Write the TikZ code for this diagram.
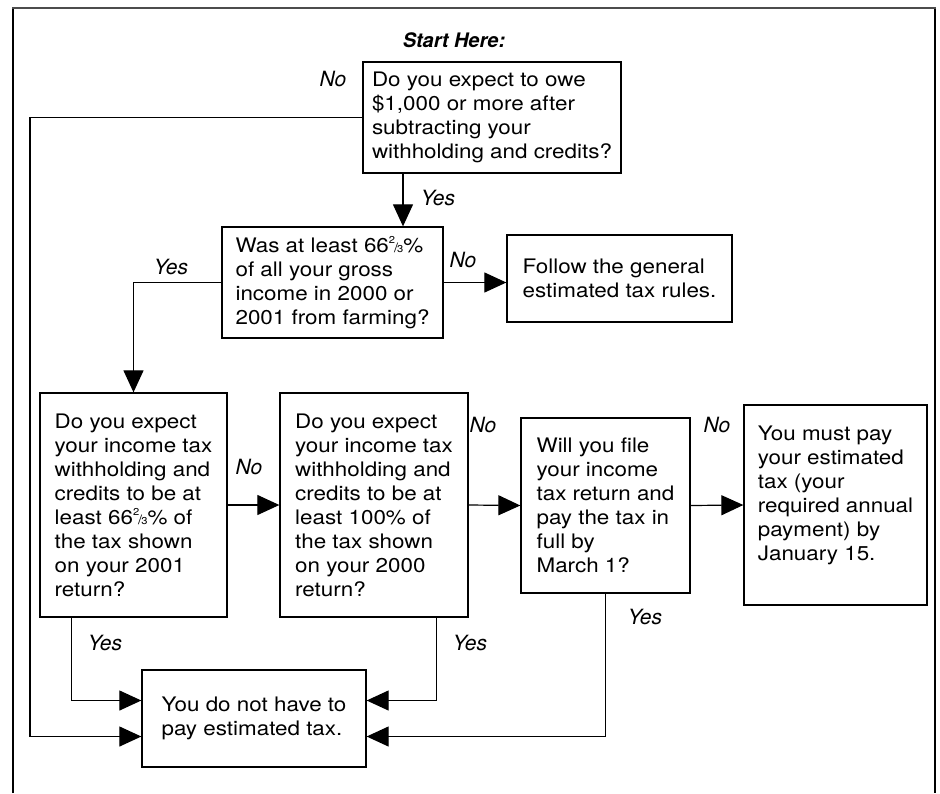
\documentclass[tikz,border=0pt]{standalone}
\usepackage{fontspec}
\setmainfont[FakeStretch=1.12]{TeX Gyre Heros}
\newfontfamily\lblfont{TeX Gyre Heros}
\usetikzlibrary{arrows.meta}
\newcommand{\twothirds}{\raisebox{0.42em}{\fontsize{10}{10}\selectfont 2}\kern-0.05em{\fontsize{13}{13}\selectfont/}\kern-0.05em{\fontsize{10}{10}\selectfont 3}}

\begin{document}
\begin{tikzpicture}[x=1pt, y=-1pt,
    qbox/.style={draw, line width=1.3pt, align=left, inner sep=0pt,
        font=\fontsize{20}{24}\selectfont},
    lnk/.style={line width=1.2pt},
    arr/.style={line width=1.2pt, -{Triangle[length=22pt,width=20pt]}},
    lbl/.style={font=\lblfont\itshape\fontsize{21}{21}\selectfont}]
        \useasboundingbox (0,0) rectangle (940,793);
        % frame
        \draw[line width=1.4pt] (13,793) -- (13,8);
        \draw[line width=1.8pt] (935,8) -- (935,793);
        \draw[line width=2.2pt, black!70] (12.3,8) -- (935.9,8);
        % top
        \node[lbl, font=\lblfont\bfseries\itshape\fontsize{20}{20}\selectfont] (start) at (454,40) {Start Here:};
        \node[qbox, minimum width=258pt, minimum height=111pt] (owe) at (492,117.5)
            {Do you expect to owe\\ \$1,000 or more after\\ subtracting your\\ withholding and credits?};
        % row 2
        \node[qbox, minimum width=221pt, minimum height=111pt] (farm) at (332.5,282.5)
            {Was at least 66\twothirds\%\\ of all your gross\\ income in 2000 or\\ 2001 from farming?};
        \node[qbox, minimum width=225pt, minimum height=87pt] (general) at (619.5,278.5)
            {Follow the general\\ estimated tax rules.};
        % row 3
        \node[qbox, minimum width=187pt, minimum height=224pt] (q2001) at (133.5,505)
            {Do you expect\\ your income tax\\ withholding and\\ credits to be at\\ least 66\twothirds\% of\\ the tax shown\\ on your 2001\\ return?};
        \node[qbox, minimum width=188pt, minimum height=224pt] (q2000) at (374,505)
            {Do you expect\\ your income tax\\ withholding and\\ credits to be at\\ least 100\% of\\ the tax shown\\ on your 2000\\ return?};
        \node[qbox, minimum width=169pt, minimum height=175pt] (march) at (605.5,505.5)
            {Will you file\\ your income\\ tax return and\\ pay the tax in\\ full by\\ March 1?};
        \node[qbox, minimum width=183pt, minimum height=200pt] (mustpay) at (835.5,505)
            {You must pay\\ your estimated\\ tax (your\\ required annual\\ payment) by\\ January 15.\\[0pt]\mbox{}};
        % row 4
        \node[qbox, minimum width=224pt, minimum height=97pt] (nopay) at (254,718.5)
            {You do not have to\\ pay estimated tax.};
        % connectors
        \coordinate (yesdown) at (403,0);
        \coordinate (noleft) at (30,0);
        \draw[arr] (owe.south -| yesdown) -- (farm.north -| yesdown);
        \draw[arr] (owe.west) -- (owe.west -| noleft) |- ([yshift=-18pt]nopay.west);
        \draw[arr] (farm.east) -- (farm.east -| general.west);
        \draw[arr] (farm.west) -| (q2001.north);
        \draw[arr] (q2001.east) -- (q2000.west);
        \draw[arr] (q2000.east) -- (march.west);
        \draw[arr] (march.east) -- (mustpay.west);
        \draw[arr] ([xshift=32pt]q2001.south west) |- ([yshift=18pt]nopay.west);
        \draw[arr] ([xshift=-32pt]q2000.south east) |- ([yshift=18pt]nopay.east);
        \draw[arr] (march.south) |- ([yshift=-18pt]nopay.east);
        % labels
        \node[lbl] (no1) at (333,79) {No};
        \node[lbl] (yes1) at (438,198) {Yes};
        \node[lbl] (no2) at (463,260) {No};
        \node[lbl] (yes2) at (171,267) {Yes};
        \node[lbl] (no3) at (249,467) {No};
        \node[lbl] (no4) at (483,425) {No};
        \node[lbl] (no5) at (717,425) {No};
        \node[lbl] (yes3) at (105,643) {Yes};
        \node[lbl] (yes4) at (470,643) {Yes};
        \node[lbl] (yes5) at (645,617) {Yes};
\end{tikzpicture}
\end{document}
